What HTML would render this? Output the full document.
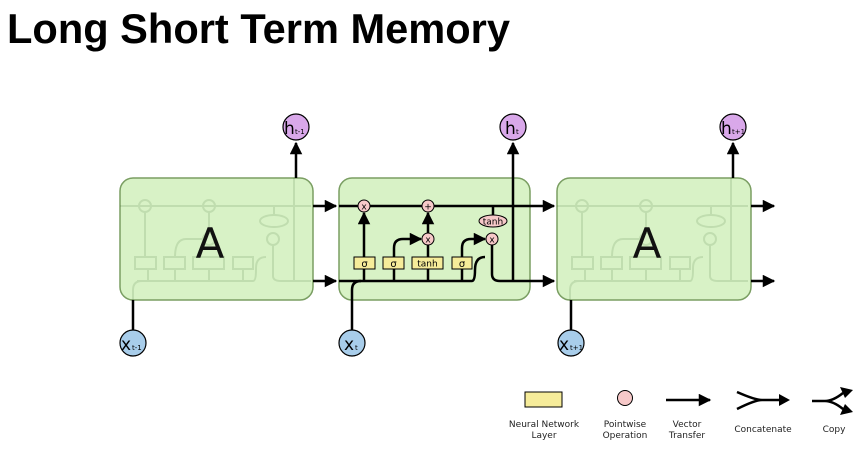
<!DOCTYPE html>
<html><head><meta charset="utf-8"><style>
html,body{margin:0;padding:0;background:#fff;}
svg{display:block;}
text{font-family:"DejaVu Sans","Liberation Sans",sans-serif;}
</style></head><body>
<svg width="868" height="454" viewBox="0 0 868 454" xmlns="http://www.w3.org/2000/svg">
<defs>
<marker id="ah" viewBox="0 0 10 10" refX="9" refY="5" markerWidth="5.5" markerHeight="5" orient="auto"><path d="M0,0L10,5L0,10z" fill="#000"/></marker>
</defs>
<text x="7" y="43" font-weight="bold" font-size="42" textLength="503" lengthAdjust="spacingAndGlyphs" style="font-family:'Liberation Sans',sans-serif">Long Short Term Memory</text>

<g>
  <rect x="120" y="178" width="193" height="122" rx="13" fill="#d8f2c6" stroke="#7a9e62" stroke-width="1.5"/>
  <rect x="557" y="178" width="194" height="122" rx="13" fill="#d8f2c6" stroke="#7a9e62" stroke-width="1.5"/>
</g>
<g opacity="0.13" stroke="#2a5a1a" stroke-width="2" fill="none">
  <g transform="translate(-219,0)">
    <path d="M339,206 H530 M356,281 H472 Q475,281 475,270 V268 Q475,257 485,257 M367,281 V268 M394,281 V268 M428,281 V268 M462,281 V268 M364,257 V212 M394,257 Q394,239 405,239 H421 M428,233 V212 M492,245 V276 Q492,281 500,281 H530 M513,281 V178 M493,206 V215 M352,300 V290 Q352,281 361,281"/>
    <circle cx="364" cy="206" r="6"/><circle cx="428" cy="206" r="6"/><circle cx="428" cy="239" r="6"/><circle cx="492" cy="239" r="6"/>
    <ellipse cx="493" cy="221" rx="14" ry="6"/>
    <rect x="354" y="257" width="21" height="12"/><rect x="383" y="257" width="21" height="12"/><rect x="412" y="257" width="31" height="12"/><rect x="452" y="257" width="20" height="12"/>
  </g>
  <g transform="translate(218,0)">
    <path d="M339,206 H530 M356,281 H472 Q475,281 475,270 V268 Q475,257 485,257 M367,281 V268 M394,281 V268 M428,281 V268 M462,281 V268 M364,257 V212 M394,257 Q394,239 405,239 H421 M428,233 V212 M492,245 V276 Q492,281 500,281 H530 M513,281 V178 M493,206 V215 M352,300 V290 Q352,281 361,281"/>
    <circle cx="364" cy="206" r="6"/><circle cx="428" cy="206" r="6"/><circle cx="428" cy="239" r="6"/><circle cx="492" cy="239" r="6"/>
    <ellipse cx="493" cy="221" rx="14" ry="6"/>
    <rect x="354" y="257" width="21" height="12"/><rect x="383" y="257" width="21" height="12"/><rect x="412" y="257" width="31" height="12"/><rect x="452" y="257" width="20" height="12"/>
  </g>
</g>
<text x="210" y="258" font-size="42" text-anchor="middle" fill="#111">A</text>
<text x="647" y="258" font-size="42" text-anchor="middle" fill="#111">A</text>

<rect x="339" y="178" width="191" height="122" rx="13" fill="#d8f2c6" stroke="#7a9e62" stroke-width="1.5"/>

<g stroke="#000" stroke-width="2.5" fill="none">
  <path d="M313,206 H336" marker-end="url(#ah)"/>
  <path d="M313,281 H336" marker-end="url(#ah)"/>
  <path d="M751,206 H774" marker-end="url(#ah)"/>
  <path d="M751,281 H774" marker-end="url(#ah)"/>
  <path d="M296,178 V143" marker-end="url(#ah)"/>
  <path d="M733,178 V143" marker-end="url(#ah)"/>
  <path d="M133,330 V300"/>
  <path d="M571,330 V300"/>
  <path d="M339,206 H554" marker-end="url(#ah)"/>
  <path d="M339,281 H472 Q475,281 475,270 Q475,257 485,257" />
  <path d="M352,330 V290 Q352,281 361,281"/>
  <path d="M364,281 V268 M394,281 V268 M428,281 V268 M462,281 V269"/>
  <path d="M364,257 V213" marker-end="url(#ah)"/>
  <path d="M394,257 V248 Q394,239 403,239 H421" marker-end="url(#ah)"/>
  <path d="M462,257 V248 Q462,239 471,239 H485" marker-end="url(#ah)"/>
  <path d="M428,233 V213" marker-end="url(#ah)"/>
  <path d="M428,257 V245"/>
  <path d="M493,206 V215"/>
  <path d="M492,245 V274 Q492,281 500,281 H554" marker-end="url(#ah)"/>
  <path d="M513,281 V143" marker-end="url(#ah)"/>
</g>
<g stroke="#000" stroke-width="1" fill="#f7c9c9">
  <circle cx="364" cy="206" r="6"/><circle cx="428" cy="206" r="6"/><circle cx="428" cy="239" r="6"/><circle cx="492" cy="239" r="6"/>
  <ellipse cx="493" cy="221" rx="14" ry="6"/>
</g>
<g font-size="9" text-anchor="middle" fill="#000">
  <text x="364" y="209.5">x</text><text x="428" y="209.5">+</text><text x="428" y="242.5">x</text><text x="492" y="242.5">x</text>
  <text x="493" y="224.5" font-size="9">tanh</text>
</g>
<g stroke="#000" stroke-width="1" fill="#f6ec9a">
  <rect x="354" y="257" width="21" height="12"/><rect x="383" y="257" width="21" height="12"/><rect x="412" y="257" width="31" height="12"/><rect x="452" y="257" width="20" height="12"/>
</g>
<g font-size="10" text-anchor="middle">
  <text x="364.5" y="267">σ</text><text x="393.5" y="267">σ</text><text x="427.5" y="266.5" font-size="9">tanh</text><text x="462" y="267">σ</text>
</g>

<g stroke="#000" stroke-width="1.2">
  <circle cx="296" cy="127" r="13" fill="#d9a8ea"/>
  <circle cx="513" cy="127" r="13" fill="#d9a8ea"/>
  <circle cx="733" cy="127" r="13" fill="#d9a8ea"/>
  <circle cx="133" cy="343" r="13" fill="#a8cdea"/>
  <circle cx="352" cy="343" r="13" fill="#a8cdea"/>
  <circle cx="571" cy="343" r="13" fill="#a8cdea"/>
</g>
<g fill="#000">
  <text x="284" y="134" font-size="17">h</text><text x="295" y="134" font-size="7">t-1</text>
  <text x="505" y="134" font-size="17">h</text><text x="516" y="134" font-size="7">t</text>
  <text x="721" y="134" font-size="17">h</text><text x="732" y="134" font-size="7">t+1</text>
  <text x="121" y="350" font-size="17">x</text><text x="132" y="350" font-size="7">t-1</text>
  <text x="344" y="350" font-size="17">x</text><text x="355" y="350" font-size="7">t</text>
  <text x="559" y="350" font-size="17">x</text><text x="570" y="350" font-size="7">t+1</text>
</g>

<rect x="525" y="392" width="37" height="15" fill="#f6ec9a" stroke="#000" stroke-width="1"/>
<circle cx="625" cy="398" r="7.5" fill="#f7c9c9" stroke="#000" stroke-width="1"/>
<g stroke="#000" stroke-width="2.5" fill="none">
  <path d="M666,400 H710" marker-end="url(#ah)"/>
  <path d="M737,392 Q755,400 762,400 M737,409 Q755,400 762,400 H779" />
  <path d="M812,401 H825 Q833,401 843,393 M825,401 Q833,401 843,409"/>
</g>
<path d="M779,394 L790,400 L779,406z" fill="#000"/>
<path d="M840,387 L853,390 L845,398z" fill="#000"/>
<path d="M840,415 L853,412 L845,404z" fill="#000"/>
<g font-size="9" text-anchor="middle" fill="#222">
  <text x="544" y="427">Neural Network</text><text x="544" y="438">Layer</text>
  <text x="625" y="427">Pointwise</text><text x="625" y="438">Operation</text>
  <text x="687" y="427">Vector</text><text x="687" y="438">Transfer</text>
  <text x="763" y="432">Concatenate</text>
  <text x="834" y="432">Copy</text>
</g>
</svg>
</body></html>
